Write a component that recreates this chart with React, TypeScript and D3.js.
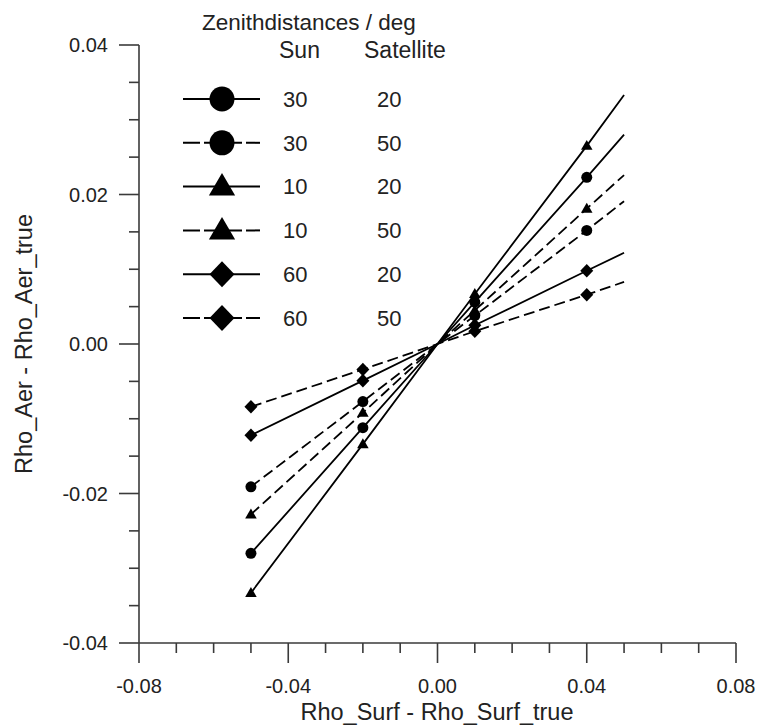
import React from "react";
import * as d3 from "d3";

const xValues = [-0.05, -0.02, 0.0, 0.01, 0.04, 0.05];
const markerIdx = [0, 1, 3, 4];

const seriesNames = ["30/20", "30/50", "10/20", "10/50", "60/20", "60/50"];
const sunZenith = ["30", "30", "10", "10", "60", "60"];
const satZenith = ["20", "50", "20", "50", "20", "50"];
const markerTypes = ["circle", "circle", "triangle", "triangle", "diamond", "diamond"];
const dashed = [false, true, false, true, false, true];

const circle20 = [-0.028, -0.0112, 0, 0.0056, 0.0223, 0.028];
const circle50 = [-0.0191, -0.0077, 0, 0.0038, 0.0152, 0.0191];
const tri20 = [-0.0333, -0.0134, 0, 0.0067, 0.0265, 0.0333];
const tri50 = [-0.0228, -0.0092, 0, 0.0045, 0.0181, 0.0226];
const diam20 = [-0.0122, -0.0049, 0, 0.0025, 0.0098, 0.0122];
const diam50 = [-0.0084, -0.0034, 0, 0.0017, 0.0066, 0.0083];
const seriesValues = [circle20, circle50, tri20, tri50, diam20, diam50];

const xMajor = [-0.08, -0.04, 0.0, 0.04, 0.08];
const xMinor = [-0.07, -0.06, -0.05, -0.03, -0.02, -0.01, 0.01, 0.02, 0.03, 0.05, 0.06, 0.07];
const yMajor = [-0.04, -0.02, 0.0, 0.02, 0.04];
const yMinor = [-0.035, -0.03, -0.025, -0.015, -0.01, -0.005, 0.005, 0.01, 0.015, 0.025, 0.03, 0.035];

const FONT = "'Liberation Sans', Arial, Helvetica, sans-serif";
const AXIS = "#3a3a3a";

function markerPath(type: string, cx: number, cy: number, s: number): string {
  if (type === "triangle") {
    const w = s * 1.05;
    const h = s * 0.9;
    return `M${cx},${cy - h * 0.6}L${cx + w / 2},${cy + h * 0.4}L${cx - w / 2},${cy + h * 0.4}Z`;
  }
  if (type === "diamond") {
    const w = s * 0.5;
    const h = s * 0.52;
    return `M${cx},${cy - h}L${cx + w},${cy}L${cx},${cy + h}L${cx - w},${cy}Z`;
  }
  return "";
}

function Marker({ type, cx, cy, s }: { type: string; cx: number; cy: number; s: number }) {
  if (type === "circle") return <circle cx={cx} cy={cy} r={s / 2} fill="#000" />;
  return <path d={markerPath(type, cx, cy, s)} fill="#000" />;
}

const plotMarkerSize: Record<string, number> = { circle: 11, triangle: 11, diamond: 13 };

export default function App() {
  const W = 760;
  const H = 725;
  const x = d3.scaleLinear().domain([-0.08, 0.08]).range([139, 736]);
  const y = d3.scaleLinear().domain([-0.04, 0.04]).range([643, 45]);
  const line = d3
    .line<number>()
    .x((_, i) => x(xValues[i]))
    .y((d) => y(d));
  const fmt = (v: number) => d3.format(".2f")(v).replace("\u2212", "-");

  const legendY = d3.scaleLinear().domain([0, 5]).range([99, 318]);

  return (
    <svg
      width={W}
      height={H}
      style={{ position: "absolute", left: 0, top: 0, background: "#fff" }}
      fontFamily={FONT}
    >
      <rect width={W} height={H} fill="#fff" />
      {/* axes */}
      <line x1={x(-0.08)} x2={x(0.08)} y1={y(-0.04)} y2={y(-0.04)} stroke={AXIS} strokeWidth={1.6} />
      <line x1={x(-0.08)} x2={x(-0.08)} y1={y(-0.04)} y2={y(0.04)} stroke={AXIS} strokeWidth={1.6} />
      {xMajor.map((v) => (
        <g key={"xM" + v}>
          <line x1={x(v)} x2={x(v)} y1={y(-0.04)} y2={y(-0.04) + 20} stroke={AXIS} strokeWidth={1.6} />
          <text x={x(v)} y={693} textAnchor="middle" fontSize={20} fill="#222">
            {fmt(v)}
          </text>
        </g>
      ))}
      {xMinor.map((v) => (
        <line key={"xm" + v} x1={x(v)} x2={x(v)} y1={y(-0.04)} y2={y(-0.04) + 10} stroke={AXIS} strokeWidth={1.6} />
      ))}
      {yMajor.map((v) => (
        <g key={"yM" + v}>
          <line x1={x(-0.08) - 20} x2={x(-0.08)} y1={y(v)} y2={y(v)} stroke={AXIS} strokeWidth={1.6} />
          <text x={108} y={y(v)} dy="0.35em" textAnchor="end" fontSize={20} fill="#222">
            {fmt(v)}
          </text>
        </g>
      ))}
      {yMinor.map((v) => (
        <line key={"ym" + v} x1={x(-0.08) - 10} x2={x(-0.08)} y1={y(v)} y2={y(v)} stroke={AXIS} strokeWidth={1.6} />
      ))}
      <text x={437} y={720} textAnchor="middle" fontSize={23.5} fill="#222">
        Rho_Surf - Rho_Surf_true
      </text>
      <text
        transform={`translate(32,${y(0)}) rotate(-90)`}
        textAnchor="middle"
        fontSize={23.5}
        fill="#222"
      >
        Rho_Aer - Rho_Aer_true
      </text>

      {/* series */}
      {seriesValues.map((vals, si) => (
        <g key={seriesNames[si]}>
          <path
            d={line(vals) || ""}
            fill="none"
            stroke="#000"
            strokeWidth={1.8}
            strokeDasharray={dashed[si] ? "11,5" : undefined}
          />
          {markerIdx.map((i) => (
            <Marker
              key={i}
              type={markerTypes[si]}
              cx={x(xValues[i])}
              cy={y(vals[i])}
              s={plotMarkerSize[markerTypes[si]]}
            />
          ))}
        </g>
      ))}

      {/* legend */}
      <text x={202} y={30} fontSize={22.5} fill="#222">
        Zenithdistances / deg
      </text>
      <text x={279} y={58} fontSize={23} fill="#222">
        Sun
      </text>
      <text x={364} y={58} fontSize={23} fill="#222">
        Satellite
      </text>
      {seriesNames.map((n, i) => {
        const ly = legendY(i);
        return (
          <g key={"lg" + n}>
            <line
              x1={183}
              x2={260}
              y1={ly}
              y2={ly}
              stroke="#000"
              strokeWidth={2}
              strokeDasharray={dashed[i] ? "17,4" : undefined}
            />
            <Marker type={markerTypes[i]} cx={222} cy={ly} s={25} />
            <text x={283} y={ly} dy="0.35em" fontSize={22} fill="#222">
              {sunZenith[i]}
            </text>
            <text x={377} y={ly} dy="0.35em" fontSize={22} fill="#222">
              {satZenith[i]}
            </text>
          </g>
        );
      })}
    </svg>
  );
}
